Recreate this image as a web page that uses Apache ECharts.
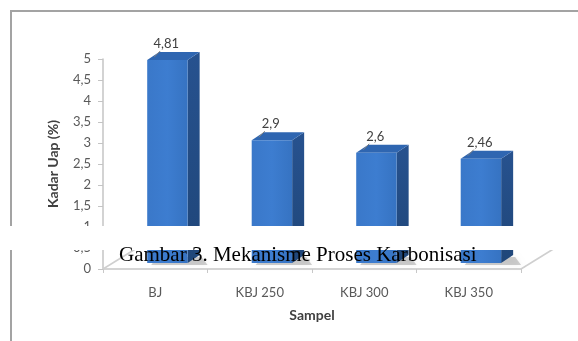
<!DOCTYPE html>
<html>
<head>
<meta charset="utf-8">
<script src="https://cdn.jsdelivr.net/npm/echarts@6/dist/echarts.min.js"></script>
<style>
  html, body { margin: 0; padding: 0; background: #ffffff; }
  #chart { width: 578px; height: 341px; }
</style>
</head>
<body>
<div id="chart"></div>
<script>
// Sample names and moisture content (Kadar Uap, %)
const categories = ['BJ', 'KBJ 250', 'KBJ 300', 'KBJ 350'];
const kadarUap = [4.81, 2.9, 2.6, 2.46];
const captionText = 'Gambar 3. Mekanisme Proses Karbonisasi';
const yAxisTitle = 'Kadar Uap (%)';
const xAxisTitle = 'Sampel';

const uiFont = 'Lato, "Open Sans", sans-serif';
const comma = v => String(v).replace('.', ',');

const chart = echarts.init(document.getElementById('chart'), null, { renderer: 'canvas' });

// Pseudo-3D column: front face, top face and right side face
function renderColumn(params, api) {
  const i = api.value(0);
  const v = api.value(1);
  const base = api.coord([i, 0]);
  const peak = api.coord([i, v]);
  const band = api.size([1, 0])[0];
  const cx = base[0];
  const x0 = cx - band * 0.077;
  const x1 = cx + band * 0.31;
  const dx = 12, dy = -8;
  const top = peak[1] - 7;
  const bottom = base[1] - 6;

  const frontFill = new echarts.graphic.LinearGradient(0, 0, 1, 0, [
    { offset: 0, color: '#3a78c9' },
    { offset: 0.5, color: '#3d7dd0' },
    { offset: 1, color: '#3673c2' }
  ]);
  const sideFill = new echarts.graphic.LinearGradient(0, 0, 0, 1, [
    { offset: 0, color: '#27528f' },
    { offset: 1, color: '#1f4679' }
  ]);

  return {
    type: 'group',
    children: [
      {
        // soft shadow cast on the floor
        type: 'polygon',
        shape: { points: [[x0 + 4, bottom + 2], [x1 + dx + 8, bottom + 2], [x1 + dx + 2, bottom + dy + 2], [x0 + 10, bottom + dy + 2]] },
        style: { fill: 'rgba(0,0,0,0.18)', shadowBlur: 5, shadowColor: 'rgba(0,0,0,0.3)' }
      },
      {
        type: 'polygon',
        shape: { points: [[x1, top], [x1 + dx, top + dy], [x1 + dx, bottom + dy], [x1, bottom]] },
        style: { fill: sideFill }
      },
      {
        type: 'polygon',
        shape: { points: [[x0, top], [x1, top], [x1 + dx, top + dy], [x0 + dx, top + dy]] },
        style: { fill: '#2f66b1' }
      },
      {
        type: 'rect',
        shape: { x: x0, y: top, width: x1 - x0, height: bottom - top },
        style: { fill: frontFill }
      },
      {
        // short leader from the value label to the column top
        type: 'line',
        shape: { x1: cx + 5, y1: top - 9, x2: cx - 1, y2: top - 3 },
        style: { stroke: '#7f7f7f', lineWidth: 1 }
      },
      {
        type: 'text',
        style: {
          x: cx + 11, y: top - 16,
          text: comma(v),
          fill: '#404040',
          font: '13px ' + uiFont,
          align: 'center', verticalAlign: 'middle'
        }
      }
    ]
  };
}

chart.setOption({
  animation: false,
  backgroundColor: '#ffffff',
  grid: { left: 103, right: 57, top: 59, bottom: 72, containLabel: false, outerBoundsMode: 'none' },
  xAxis: {
    type: 'category',
    data: categories,
    boundaryGap: true,
    name: xAxisTitle,
    nameLocation: 'middle',
    nameGap: 39,
    nameTextStyle: { fontFamily: uiFont, fontSize: 14, fontWeight: 'bold', color: '#404040' },
    axisLine: { lineStyle: { color: '#d4d4d4', width: 2 } },
    axisTick: { show: true, length: 4, lineStyle: { color: '#c8c8c8' } },
    axisLabel: { margin: 17, fontFamily: uiFont, fontSize: 13, color: '#595959' }
  },
  yAxis: {
    type: 'value',
    min: 0, max: 5, interval: 0.5,
    name: yAxisTitle,
    nameLocation: 'middle',
    nameGap: 43,
    nameTextStyle: { fontFamily: uiFont, fontSize: 14, fontWeight: 'bold', color: '#404040' },
    axisLine: { show: true, lineStyle: { color: '#c4c4c4', width: 1.5 } },
    axisTick: { show: true, length: 5, lineStyle: { color: '#c4c4c4' } },
    splitLine: { show: false },
    axisLabel: { margin: 12, fontFamily: uiFont, fontSize: 13, color: '#595959', formatter: v => comma(v) }
  },
  series: [{
    type: 'custom',
    renderItem: renderColumn,
    clip: false,
    encode: { x: 0, y: 1 },
    data: kadarUap.map((v, i) => [i, v])
  }]
});

// Floor side edges, frame and caption band
const origin = chart.convertToPixel({ gridIndex: 0 }, [0, 0]);
const left = 103, right = 521, floorY = origin[1];

chart.setOption({
  graphic: [
    { type: 'line', shape: { x1: left, y1: floorY, x2: left + 34, y2: floorY - 21 }, style: { stroke: '#cfcfcf', lineWidth: 1.5 }, z: 1 },
    { type: 'line', shape: { x1: right, y1: floorY, x2: right + 34, y2: floorY - 21 }, style: { stroke: '#cfcfcf', lineWidth: 1.5 }, z: 1 },
    { type: 'line', shape: { x1: 10, y1: 11, x2: 578, y2: 11 }, style: { stroke: '#a3a3a3', lineWidth: 2 }, z: 50 },
    { type: 'line', shape: { x1: 11, y1: 10, x2: 11, y2: 341 }, style: { stroke: '#a3a3a3', lineWidth: 2 }, z: 50 },
    { type: 'rect', shape: { x: 0, y: 226, width: 578, height: 24 }, style: { fill: '#ffffff' }, zlevel: 1, z: 100 },
    {
      type: 'text', zlevel: 1, z: 101,
      style: {
        x: 119, y: 245, text: captionText,
        font: '21px "Liberation Serif", "Times New Roman", serif',
        fill: '#000000', align: 'left', verticalAlign: 'alphabetic'
      }
    }
  ]
});
</script>
</body>
</html>
